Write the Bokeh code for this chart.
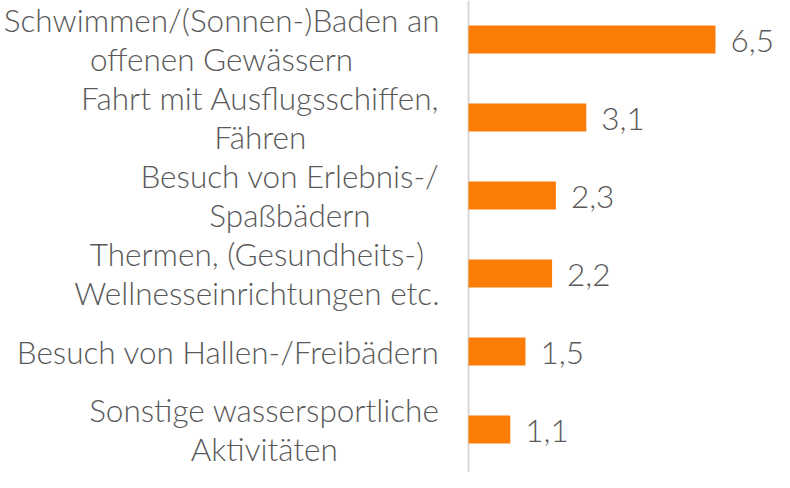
from bokeh.plotting import figure
from bokeh.models import Range1d, Span, ColumnDataSource
from bokeh.core.properties import value
from bokeh.embed import file_html
from bokeh.resources import INLINE

categories = [
    "Schwimmen/(Sonnen-)Baden an\noffenen Gewässern",
    "Fahrt mit Ausflugsschiffen,\nFähren",
    "Besuch von Erlebnis-/\nSpaßbädern",
    "Thermen, (Gesundheits-)\nWellnesseinrichtungen etc.",
    "Besuch von Hallen-/Freibädern",
    "Sonstige wassersportliche\nAktivitäten",
]
values = [6.5, 3.1, 2.3, 2.2, 1.5, 1.1]
value_labels = ["6,5", "3,1", "2,3", "2,2", "1,5", "1,1"]

FONT = "Lato Light"
FONT_SIZE = "31.5px"
TEXT_COLOR = "#595959"
BAR_COLOR = "#FB7D07"

src = ColumnDataSource(dict(
    y=list(range(len(categories))),
    v=values,
    cat=categories,
    vl=value_labels,
    zero=[0] * len(values),
))

p = figure(width=774, height=472, output_backend="svg", toolbar_location=None,
           x_range=Range1d(-12.316, 8.053), y_range=Range1d(5.551, -0.5),
           min_border=0, outline_line_color=None)
p.axis.visible = False
p.grid.visible = False

p.hbar(y="y", left=0, right="v", height=0.359, source=src,
       fill_color=BAR_COLOR, line_color=None)

p.add_layout(Span(location=0, dimension="height", line_color="#D9D9D9",
                  line_width=2, level="underlay"))

p.text(x="v", y="y", text="vl", source=src, x_offset=15, y_offset=1,
       text_font=value(FONT), text_font_size=FONT_SIZE, text_color=TEXT_COLOR,
       text_align="left", text_baseline="middle")

p.text(x="zero", y="y", text="cat", source=src, x_offset=-29,
       anchor="center_right",
       text_font=value(FONT), text_font_size=FONT_SIZE, text_color=TEXT_COLOR,
       text_align="center", text_baseline="middle", text_line_height=1.05)

open("out.html", "w").write(file_html(p, INLINE))
